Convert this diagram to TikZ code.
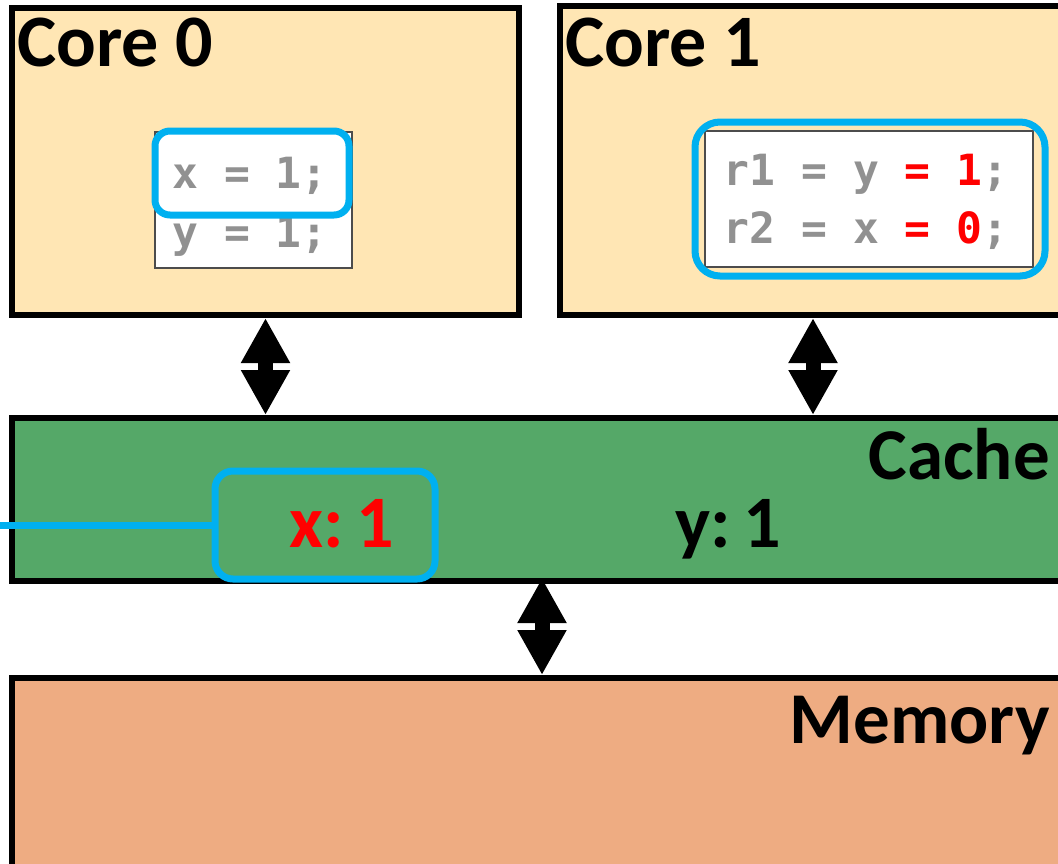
\documentclass[tikz,border=0pt]{standalone}
\usepackage{fontspec}
\setmainfont{Carlito}
\newfontfamily\codefont{DejaVu Sans Mono}
\usetikzlibrary{arrows.meta,calc}
\definecolor{corefill}{RGB}{255,230,180}
\definecolor{cachefill}{RGB}{85,168,104}
\definecolor{memfill}{RGB}{238,172,130}
\definecolor{hlblue}{RGB}{0,176,240}
\definecolor{codegray}{RGB}{145,145,145}
\definecolor{valred}{RGB}{255,0,0}
\begin{document}
\begin{tikzpicture}[x=1pt,y=-1pt,
  unit/.style={draw=black, line width=6pt, inner sep=0pt, anchor=north west},
  codebox/.style={draw=black!70, line width=1.2pt, fill=white, inner sep=0pt},
  hilite/.style={draw=hlblue, line width=7pt, rounded corners=#1, inner sep=0pt},
  title/.style={font=\fontsize{74}{80}\selectfont\bfseries, inner sep=0pt},
  bigtitle/.style={font=\fontsize{73}{80}\selectfont\bfseries, inner sep=0pt, anchor=base east},
  value/.style={font=\fontsize{74}{80}\selectfont\bfseries, inner sep=0pt, anchor=base},
  code/.style={font=\codefont\fontsize{43}{50}\selectfont\bfseries, text=codegray, inner sep=0pt, anchor=base},
  bus/.style={line width=15pt, {Triangle[length=45pt,width=46pt]}-{Triangle[length=45pt,width=46pt]}},
]
\useasboundingbox (0,0) rectangle (1058,863);
\clip (0,0) rectangle (1058,863);

% hardware blocks
\node[unit, fill=corefill, minimum width=507pt, minimum height=307pt] (core0) at (9,5) {};
\node[unit, fill=corefill, minimum width=600pt, minimum height=309pt] (core1) at (557,3) {};
\node[unit, fill=cachefill, minimum width=1200pt, minimum height=163pt] (cache) at (9,415) {};
\node[unit, fill=memfill, minimum width=1200pt, minimum height=300pt] (memory) at (9,675) {};

\node[title, anchor=base west] (t0) at (17,66) {Core 0};
\node[title, anchor=base west] (t1) at (565,66) {Core 1};
\node[bigtitle] (tc) at (1050,479) {Cache};
\node[bigtitle] (tm) at (1050,743) {Memory};

% program of core 0
\node[codebox, minimum width=197pt, minimum height=136pt] (code0) at (253.5,200) {};
\node[code] (y0) at (250,247) {y = 1;};
\node[hilite=15pt, fill=white, minimum width=194pt, minimum height=84pt] (hl0) at (252,173) {};
\node[code] (x0) at (250,188) {x = 1;};

% program of core 1
\node[codebox, minimum width=328pt, minimum height=136pt] (code1) at (869,199) {};
\node[code] (r1) at (866,185) {r1 = y \textcolor{valred}{= 1};};
\node[code] (r2) at (866,243) {r2 = x \textcolor{valred}{= 0};};
\node[hilite=25pt, minimum width=350pt, minimum height=154pt] (hl1) at (870,199) {};

% cache contents
\node[hilite=18pt, minimum width=220pt, minimum height=108pt] (hlx) at (325,525) {};
\coordinate (lineend) at (-20,525);
\draw[draw=hlblue, line width=7pt] (lineend) -- (hlx.west);
\node[value, text=valred] (xval) at (341.5,547) {x:\hspace{0.17em}1};
\node[value] (yval) at (728,547) {y:\hspace{0.17em}1};

% buses
\coordinate (bus1) at (813,0);
\coordinate (busm) at (542,0);
\draw[bus] (core0.south) -- (core0.south |- cache.north);
\draw[bus] (core1.south -| bus1) -- (cache.north -| bus1);
\draw[bus] ($(cache.south -| busm)+(0,-6)$) -- (memory.north -| busm);
\end{tikzpicture}
\end{document}
